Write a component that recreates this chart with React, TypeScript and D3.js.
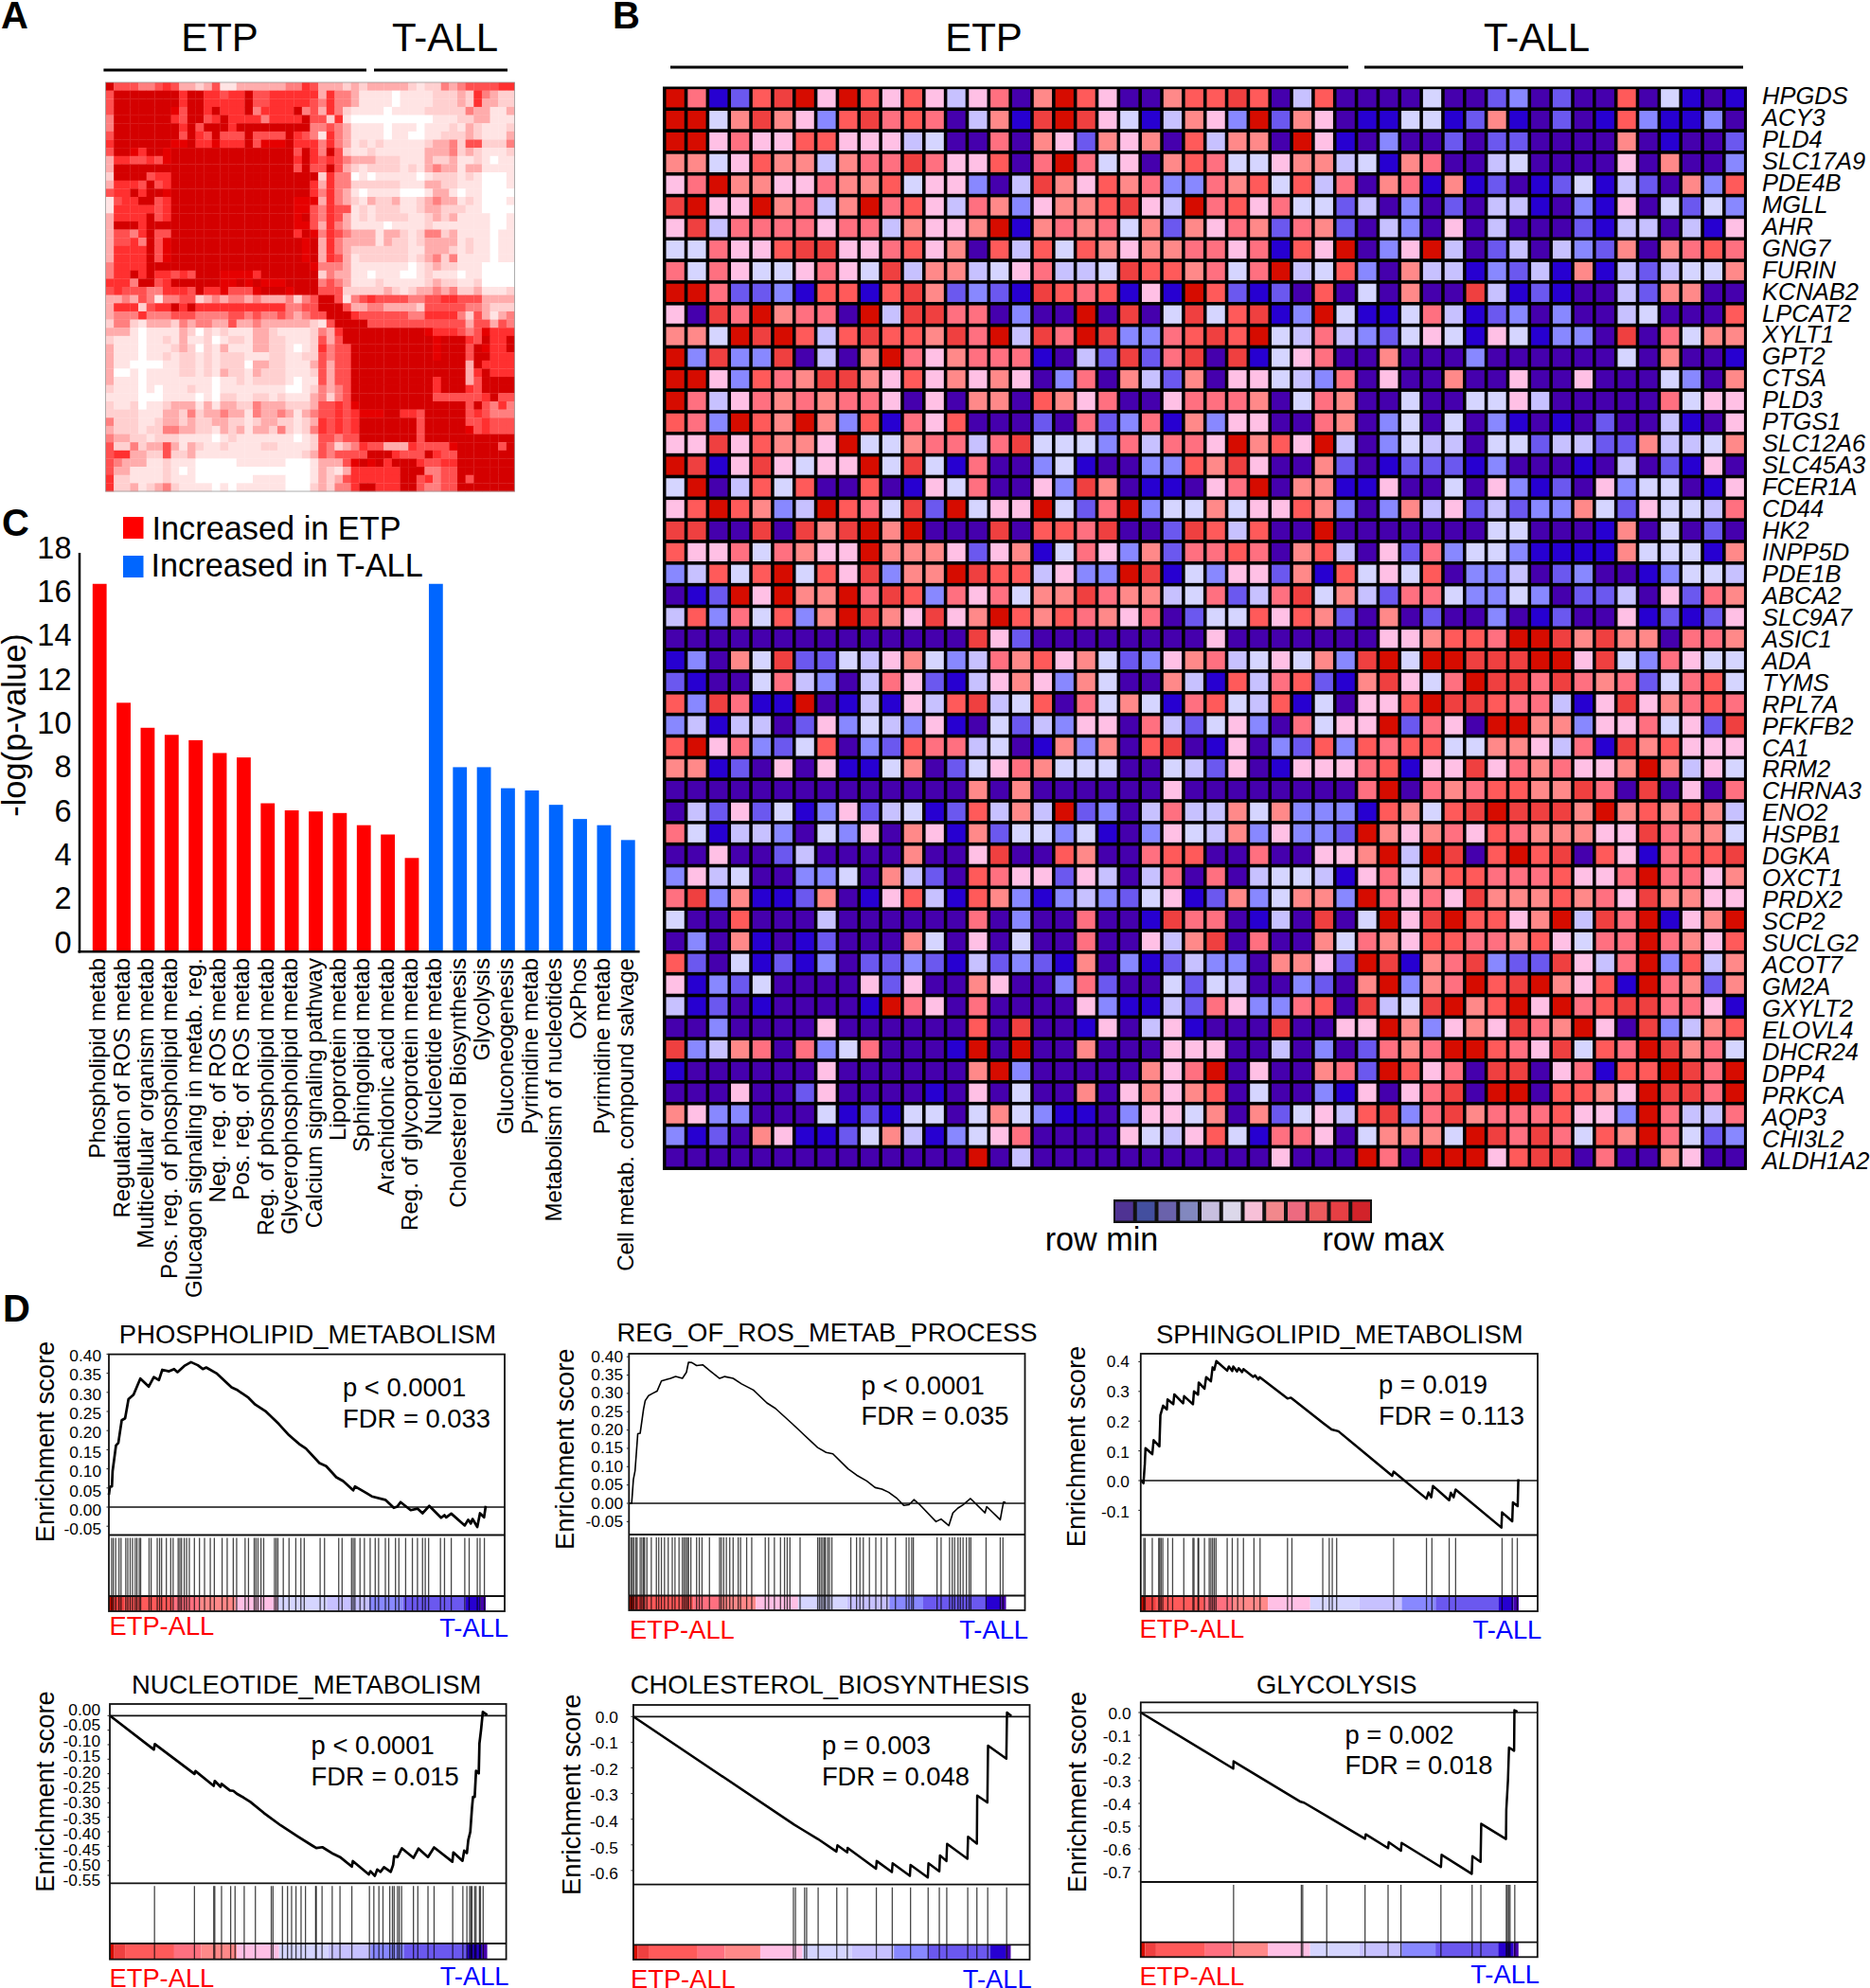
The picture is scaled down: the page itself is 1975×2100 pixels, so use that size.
import React from "react";
import * as d3 from "d3";

const FONT = "'Liberation Sans', Arial, sans-serif";

// ---------- Panel A: sample-sample correlation, upper triangle, red level 0-8 per cell ----------
const corrLevels = ["#ffffff", "#ffe4e4", "#ffd0d0", "#ffacac", "#ff7f7f", "#ff5050", "#ff3030", "#e60000", "#d40000"];
const corrUpper = [
  "855544565332351133333344653332323333321224345555 6",
  "88888888688665668556666663644 3 11110111122232643223",
  "8888888688666668556666654644 3 11110111122232633223",
  "888887588686668466668453642 11110111122222433113",
  "8888658856866664666685526 1 0 00000000011122331112",
  "888868 588868888888884 4 5 4 3 11110111011121321112",
  "8885 86 5 8 5 55 8 5 555 8 654 1 6 4 3 11110110011222321113",
  "8778 66 7 666 8 5 777 8 666 4 6 4 3 12121111123342552224",
  "888888888888888586 4 8 5 2 11211111133342321112",
  "88888888888888686 5 6 5 4 33322211132231121011",
  "8888888888888585 5 8 5 3 21222212134331331111",
  "888888888888888 2 6 4 4 01011111012221210001",
  "88888888888886 3 6 4 4 22222211133221110001",
  "8888888888886 4 6 4 3 10111100013310110000",
  "888888888777 3 6 4 3 21322311234331210001",
  "88888888775 4 6 5 5 12122211233222110000",
  "8888888785 4 6 5 3 12122221123231111001",
  "888888775 3 6 4 3 11110111121111111001",
  "88888687 4 6 5 4 33313321244231111011",
  "8888878 3 6 4 3 33313221233331211011",
  "888878 3 6 4 3 22222221133321211011",
  "88878 3 6 5 3 12222221234241111011",
  "8887 4 4 4 3 11111110123221110000",
  "888 2 4 3 3 11011100121110110000",
  "88 4 5 4 3 11121111123221120000",
  "8 5 5 5 2 22223212334342231112",
  "88 5 1 4 5 6 5555 44 55 66 555 33 33",
  "8 8 5 33 44 3333 2 55555 44 3 222",
  "8 8 6 5 55555 44 6666 4 2 5 3 1 3 4",
  "8 88 5555555 55555 3 55 3 5 4",
  "888888888 7 6 66 5 4 5 7 666",
  "888888888 7 888 6 5 8 66 8",
  "88888888 7 888 5 8 7 66 8",
  "8888888 7888 5 8 8 666",
  "888888 8888 3 8 6 666",
  "88888 8888 3 6 8 666",
  "8888 6888 3 5 8888",
  "888 6888 6 5 8888",
  "88 5555 5 5 6 8 55",
  "8 8888 5 8 5 4 6 4",
  "8888 5 6 5 444",
  "888 5 5 6 555",
  "88 7 5 6 555",
  "8888888",
  "888858",
  "88888",
  "8888",
  "888",
  "88",
  "8",
];

// ---------- Panel B: 50 genes x 50 samples, palette level 0-11 (A=10, B=11) ----------
const heatPalette = ["#4500ad", "#2700d1", "#6b58ef", "#8888ff", "#c7c1ff", "#d5d5ff", "#ffc0e5", "#ff8989", "#ff7080", "#ff5a5a", "#ef4040", "#d60c00"];
const legendPalette = ["#4f3393", "#434f9f", "#6a62ab", "#8288bf", "#c8bfdf", "#dcd8ea", "#f7c0d8", "#f2888c", "#ed6a80", "#ec5a5d", "#e63f44", "#d2232a"];
const genes = ["HPGDS", "ACY3", "PLD4", "SLC17A9", "PDE4B", "MGLL", "AHR", "GNG7", "FURIN", "KCNAB2", "LPCAT2", "XYLT1", "GPT2", "CTSA", "PLD3", "PTGS1", "SLC12A6", "SLC45A3", "FCER1A", "CD44", "HK2", "INPP5D", "PDE1B", "ABCA2", "SLC9A7", "ASIC1", "ADA", "TYMS", "RPL7A", "PFKFB2", "CA1", "RRM2", "CHRNA3", "ENO2", "HSPB1", "DGKA", "OXCT1", "PRDX2", "SCP2", "SUCLG2", "ACOT7", "GM2A", "GXYLT2", "ELOVL4", "DHCR24", "DPP4", "PRKCA", "AQP3", "CHI3L2", "ALDH1A2"];
const heatRows = [
  "B8 12 9A B6 B9 69 64 68 07 B9 60 07 99 A9 04 90 00 05 00 23 02 00 90 51 01",
  "BB 57 A7 63 9A 89 80 47 1A BA 65 14 76 3B 27 60 11 55 12 71 02 01 93 11 30",
  "BB 68 66 99 66 64 50 08 07 62 76 70 94 77 0B 61 03 00 20 22 00 00 70 10 02",
  "77 56 97 74 78 8A 86 69 08 B8 56 07 98 55 67 74 51 78 00 45 00 00 60 70 03",
  "68 B7 76 68 77 95 66 30 4A 76 97 83 38 79 59 48 07 81 71 20 12 51 42 07 39",
  "AB 66 B7 84 7B 89 64 87 36 77 9A 64 B8 96 85 52 40 30 20 44 10 31 60 52 53",
  "6A 48 88 86 88 47 66 7B 17 87 85 72 76 87 28 72 04 30 60 40 00 21 44 04 16",
  "55 86 69 AA 66 89 67 09 49 59 76 77 88 68 19 6B 03 6B 40 24 04 32 70 78 98",
  "85 86 55 68 65 A4 77 45 68 44 5A 99 78 58 B4 59 30 74 41 32 41 71 42 45 57",
  "BB 82 23 19 91 9A 72 32 1A 98 91 61 B9 21 20 90 50 70 0A 41 21 00 42 77 00",
  "60 A8 B7 88 0B 4A A8 80 30 0B 0A 05 A5 9A 13 B5 11 58 41 23 03 00 45 00 09",
  "77 5B AB 94 9A 99 7A 8B 4A 8B A3 38 9A 9B 54 84 32 56 51 65 13 30 A0 85 77",
  "B3 A3 3A 04 07 B8 67 88 81 04 2A 28 A0 A1 56 80 07 00 03 00 00 00 50 70 01",
  "BB 63 98 7A A7 69 67 67 60 38 07 42 70 66 54 38 06 00 70 06 00 60 00 53 07",
  "B8 46 87 87 88 60 60 77 09 76 80 06 88 87 05 87 00 50 05 56 40 00 00 85 66",
  "98 3B 97 B7 39 18 69 00 02 08 23 81 73 66 00 87 03 50 50 31 01 02 00 41 06",
  "66 A6 97 76 B5 57 88 48 A5 55 38 48 86 B7 96 B4 03 54 40 55 24 42 27 44 57",
  "BA 16 A6 56 6B 5A 51 80 03 51 00 33 97 A6 00 72 01 22 21 30 00 10 40 21 60",
  "5B 04 95 90 09 01 65 80 06 3A 70 11 06 8B 07 71 16 00 50 63 12 06 35 50 16",
  "69 B9 73 4B 98 5A 2B 56 6B 52 8B 35 57 56 69 73 03 74 62 42 33 75 26 55 48",
  "AA 00 A0 A7 AB 7B 00 0A 09 98 A0 02 A9 49 00 B0 00 00 00 55 00 01 70 50 20",
  "96 68 58 76 6B 77 76 26 71 58 63 72 88 98 07 94 06 28 35 53 11 11 75 55 17",
  "34 95 9B 59 6A 37 7B A9 94 63 3B A1 53 66 27 19 56 59 03 34 02 30 01 35 54",
  "01 2B 6B 77 B8 A9 38 68 57 7A 87 74 58 24 8A 57 42 88 53 35 30 22 40 62 87",
  "49 38 59 37 BA 76 A6 7B 97 98 76 80 25 59 69 72 07 02 00 30 12 00 61 21 26",
  "00 00 00 00 00 00 00 A6 20 00 00 00 06 00 00 00 06 67 99 8B BA 7A 77 08 87",
  "13 07 5A 22 54 67 53 48 79 67 52 36 78 45 65 73 AB 5B BA AA BB 6A 53 86 55",
  "21 00 58 43 04 86 21 46 76 37 50 07 41 94 89 21 7A 65 8B AA 8A 87 82 58 95",
  "93 A8 11 B0 14 16 49 A4 59 08 57 51 89 54 91 50 66 9B AA 98 84 16 A6 78 98",
  "34 14 40 26 35 43 61 05 24 36 60 84 25 63 08 56 6B 28 60 BB 77 36 68 56 2A",
  "9B 68 32 59 03 29 88 45 01 73 70 9A 01 60 32 93 98 99 55 77 64 81 A7 96 66",
  "77 12 06 06 11 57 02 56 87 55 50 05 42 60 16 66 89 16 6A 68 78 66 7B 74 65",
  "00 00 00 00 00 00 00 70 70 00 00 06 00 00 00 00 8B 08 78 99 77 A8 0A 06 08",
  "04 26 25 13 62 45 12 94 74 B2 30 48 44 75 73 33 19 75 9A BA AA 7B 79 79 74",
  "85 14 43 05 36 07 61 72 55 35 10 36 54 73 63 32 B7 67 86 98 77 76 6A 87 75",
  "00 60 02 40 00 07 00 6A 00 97 00 89 90 08 00 66 7B 4B A0 9B 9A 09 61 89 9A",
  "36 45 00 33 50 74 20 98 66 26 40 48 08 04 55 41 68 57 99 88 89 66 8B 88 67",
  "8A 37 11 27 01 69 41 97 31 34 32 56 12 73 57 73 B8 68 6A 77 79 78 6A 77 66",
  "50 09 00 04 00 00 00 80 30 08 00 1A 88 01 40 A0 5B 6A B9 96 7B 4A 8B 16 7B",
  "03 07 10 12 00 07 50 60 50 08 00 64 7A 08 00 75 87 69 98 87 96 58 8B 87 69",
  "92 05 12 13 02 23 21 42 32 17 03 12 43 30 77 62 BA 17 8A 32 2A 64 8B 39 47",
  "61 32 50 00 06 26 00 76 00 38 20 05 25 40 03 20 7B 37 8B 9A B7 69 1B 87 27",
  "41 20 10 00 01 B8 60 80 00 06 31 14 28 63 38 90 A4 5A B7 9B 6B 89 AA 88 61",
  "00 30 00 06 00 00 00 90 A0 01 60 46 10 00 A0 06 6B 73 67 6A 87 B6 0A 34 79",
  "A3 47 80 83 58 00 01 B0 B0 07 00 06 66 00 40 30 28 78 BB 98 6A 59 8B A7 85",
  "10 00 00 06 00 00 00 7B 30 00 00 76 8B 06 00 78 2B 96 80 AA 06 81 99 BA 8B",
  "00 06 00 26 00 00 10 60 50 07 06 76 79 05 00 31 60 68 A0 BB 09 97 6B AA 8B",
  "76 33 00 05 12 15 50 57 53 11 03 66 57 07 25 64 9A 38 A7 88 89 66 3B 84 48",
  "31 20 76 11 25 74 13 56 80 00 06 54 69 51 88 60 57 77 5B A8 A8 59 7B 85 23",
  "00 00 00 00 00 00 00 B0 40 00 00 00 00 00 60 00 B8 0B BB 69 AA 08 00 76 00",
];

// ---------- Panel C: enrichment bars ----------
const pathways = ["Phospholipid metab", "Regulation of ROS metab", "Multicellular organism metab", "Pos. reg. of phospholipid metab", "Glucagon signaling in metab. reg.", "Neg. reg. of ROS metab", "Pos. reg. of ROS metab", "Reg. of phospholipid metab", "Glycerophospholipid metab", "Calcium signaling pathway", "Lipoprotein metab", "Sphingolipid metab", "Arachidonic acid metab", "Reg. of glycoprotein metab", "Nucleotide metab", "Cholesterol Biosynthesis", "Glycolysis", "Gluconeogenesis", "Pyrimidine metab", "Metabolism of nucleotides", "OxPhos", "Pyrimidine metab", "Cell metab. compound salvage"];
const pathwayValues = [16.6, 11.23, 10.1, 9.78, 9.54, 8.96, 8.76, 6.69, 6.37, 6.32, 6.25, 5.7, 5.28, 4.22, 16.6, 8.32, 8.32, 7.37, 7.27, 6.62, 5.98, 5.7, 5.03];
const etpBarCount = 14;
const barTicks = [0, 2, 4, 6, 8, 10, 12, 14, 16, 18];

// ---------- Panel D: GSEA running scores [rank, ES], and hit ranks ----------
const rankBarEnds = [13, 45, 190, 270, 375, 500, 645, 770, 870, 1055, 1100, 1115];
const rankBarLevels = [11, 10, 9, 8, 7, 6, 5, 4, 3, 2, 1, 0];

const phosphoCurve = [[0,.032],[3,.053],[9,.054],[11,.094],[21,.161],[28,.168],[38,.227],[48,.232],[58,.282],[73,.294],[93,.336],[118,.315],[133,.340],[148,.332],[158,.359],[178,.355],[193,.361],[203,.353],[223,.369],[243,.379],[263,.371],[278,.361],[288,.365],[318,.350],[363,.313],[378,.307],[413,.286],[433,.268],[463,.251],[503,.217],[533,.188],[563,.165],[583,.153],[623,.115],[643,.107],[673,.078],[693,.068],[723,.044],[728,.054],[763,.036],[778,.028],[818,.019],[843,-.002],[853,.001],[863,.013],[893,-.008],[913,-.004],[928,-.016],[948,.003],[983,-.028],[993,-.021],[998,-.027],[1013,-.017],[1053,-.048],[1063,-.033],[1071,-.043],[1076,-.031],[1090,-.052],[1098,-.016],[1110,-.027],[1115,.003]];
const phosphoHits = [8,13,20,30,36,50,56,63,70,78,83,90,94,119,125,143,150,156,170,183,190,205,210,215,223,230,238,253,268,283,300,312,335,350,368,378,403,413,430,435,441,450,458,490,495,500,516,533,553,568,578,625,638,680,690,718,723,728,743,756,773,788,798,818,828,848,858,878,898,913,928,936,946,981,993,1013,1053,1066,1090,1098,1111];
const rosCurve = [[0,0],[8,0],[13,.065],[18,.089],[26,.190],[33,.191],[43,.257],[48,.280],[58,.294],[70,.300],[83,.306],[96,.334],[108,.337],[123,.341],[138,.346],[158,.341],[170,.358],[176,.385],[186,.384],[200,.376],[218,.378],[238,.363],[268,.341],[283,.346],[308,.341],[333,.326],[368,.309],[408,.274],[433,.259],[483,.217],[558,.152],[583,.139],[603,.135],[648,.094],[673,.077],[703,.061],[728,.043],[748,.039],[768,.030],[793,.013],[813,-.006],[828,-.004],[843,.010],[858,-.002],[908,-.050],[923,-.043],[946,-.061],[958,-.026],[973,-.013],[988,-.004],[1010,.013],[1053,-.026],[1058,-.009],[1098,-.045],[1103,-.019],[1108,.004],[1114,.002]];
const rosHits = [6,10,14,20,24,33,38,43,46,53,66,81,88,96,105,116,128,136,148,158,163,168,173,176,183,200,208,216,238,268,273,280,288,298,308,323,330,348,363,403,413,430,448,460,468,476,506,558,563,568,573,578,581,588,593,600,656,673,683,693,711,730,746,763,788,820,828,836,841,911,923,948,956,963,973,980,988,998,1006,1011,1056,1098,1106];
const sphingoCurve = [[0,.002],[8,-.009],[12,.056],[14,.109],[34,.089],[38,.136],[55,.115],[58,.220],[66,.252],[77,.239],[79,.273],[96,.257],[99,.290],[125,.260],[128,.284],[154,.257],[157,.300],[169,.289],[171,.330],[188,.309],[193,.348],[207,.334],[212,.381],[217,.373],[223,.402],[255,.370],[260,.384],[270,.369],[273,.384],[284,.367],[289,.378],[299,.365],[303,.375],[332,.349],[337,.354],[347,.340],[351,.348],[433,.276],[443,.279],[453,.270],[539,.193],[563,.172],[583,.166],[742,.016],[746,.030],[843,-.061],[849,-.040],[857,-.056],[862,-.018],[910,-.066],[915,-.041],[923,-.056],[929,-.030],[1064,-.158],[1066,-.107],[1096,-.137],[1098,-.073],[1112,-.086],[1114,.005]];
const sphingoHits = [9,13,34,53,56,60,65,80,94,127,154,157,169,171,188,202,207,212,217,222,255,270,286,303,334,352,433,446,537,556,565,578,746,843,859,910,929,1066,1096,1111];
const nucleoCurve = [[0,0],[130,-.117],[133,-.098],[250,-.201],[253,-.191],[307,-.242],[310,-.225],[327,-.245],[330,-.235],[355,-.258],[365,-.259],[375,-.269],[395,-.282],[415,-.297],[455,-.335],[505,-.378],[555,-.416],[600,-.449],[610,-.456],[628,-.453],[660,-.476],[680,-.487],[715,-.520],[718,-.501],[765,-.547],[770,-.536],[783,-.552],[790,-.530],[800,-.538],[810,-.522],[830,-.538],[837,-.514],[840,-.484],[850,-.487],[863,-.457],[897,-.490],[912,-.458],[940,-.487],[958,-.454],[1012,-.503],[1015,-.471],[1042,-.500],[1047,-.465],[1055,-.473],[1059,-.429],[1065,-.400],[1070,-.318],[1073,-.280],[1078,-.280],[1082,-.190],[1090,-.199],[1092,-.096],[1097,-.047],[1102,.013],[1115,.002]];
const nucleoHits = [132,250,307,310,330,357,370,397,430,477,482,510,525,537,550,565,578,608,610,627,657,680,715,767,780,795,807,827,835,840,850,855,862,897,910,940,958,1013,1043,1055,1063,1067,1070,1078,1082,1092,1095,1103];
const cholCurve = [[0,0],[475,-.421],[495,-.437],[545,-.477],[600,-.526],[603,-.502],[632,-.529],[633,-.512],[717,-.593],[719,-.563],[764,-.606],[766,-.572],[817,-.621],[819,-.578],[870,-.627],[872,-.572],[904,-.603],[906,-.541],[925,-.563],[927,-.496],[987,-.554],[989,-.468],[1015,-.495],[1016,-.308],[1046,-.335],[1048,-.113],[1102,-.164],[1104,.016],[1117,.002]];
const cholHits = [473,479,506,512,546,601,632,718,765,819,871,904,926,988,1015,1047,1103];
const glycoCurve = [[0,0],[273,-.247],[274,-.215],[472,-.393],[482,-.397],[549,-.456],[662,-.556],[664,-.536],[730,-.597],[732,-.571],[768,-.608],[770,-.574],[886,-.680],[888,-.626],[977,-.710],[979,-.632],[1003,-.657],[1005,-.490],[1078,-.557],[1079,-.428],[1084,-.296],[1087,-.154],[1102,-.168],[1103,.010],[1112,.004]];
const glycoHits = [274,474,478,549,662,730,768,886,978,1004,1079,1082,1086,1090,1104];

const ticks05 = [0.4, 0.35, 0.3, 0.25, 0.2, 0.15, 0.1, 0.05, 0, -0.05];
const ticksNeg05 = [0, -0.05, -0.1, -0.15, -0.2, -0.25, -0.3, -0.35, -0.4, -0.45, -0.5, -0.55];
const ticksSphingo = [0.4, 0.3, 0.2, 0.1, 0, -0.1];
const ticksChol = [0, -0.1, -0.2, -0.3, -0.4, -0.5, -0.6];
const ticksGlyco = [0, -0.1, -0.2, -0.3, -0.4, -0.5, -0.6, -0.7];

const gseaPanels = [
  { title: "PHOSPHOLIPID_METABOLISM", titleX: 325, titleY: 1419, curve: phosphoCurve, hits: phosphoHits, ticks: ticks05, fmt: ".2f", p: "p < 0.0001", fdr: "FDR = 0.033",
    x0: 115, x1: 533, top: 1430.6, curveBot: 1621.5, hitBot: 1686, bot: 1702, zero: 1592, perUnit: 404, lab0: 1431.5, labStep: 20.4, labX: 107,
    statX: 362, pY: 1475, fY: 1508, yTitleX: 57, yTitleY: 1523, etpX: 115.5, etpY: 1727, tX: 537, tY: 1729, lw: 2.7 },
  { title: "REG_OF_ROS_METAB_PROCESS", titleX: 873.5, titleY: 1417, curve: rosCurve, hits: rosHits, ticks: ticks05, fmt: ".2f", p: "p < 0.0001", fdr: "FDR = 0.035",
    x0: 664.3, x1: 1082.5, top: 1430, curveBot: 1621, hitBot: 1685.5, bot: 1701, zero: 1588, perUnit: 387, lab0: 1432.5, labStep: 19.35, labX: 658,
    statX: 909.5, pY: 1472.7, fY: 1505.4, yTitleX: 605.7, yTitleY: 1530.8, etpX: 665, etpY: 1730.5, tX: 1086, tY: 1730.5, lw: 1.6 },
  { title: "SPHINGOLIPID_METABOLISM", titleX: 1414.7, titleY: 1419, curve: sphingoCurve, hits: sphingoHits, ticks: ticksSphingo, fmt: ".1f", p: "p = 0.019", fdr: "FDR = 0.113",
    x0: 1204.8, x1: 1624, top: 1430, curveBot: 1621.5, hitBot: 1686, bot: 1702, zero: 1564, perUnit: 314, lab0: 1438, labStep: 31.8, labX: 1192.8,
    statX: 1456, pY: 1471.7, fY: 1504.7, yTitleX: 1145.9, yTitleY: 1528, etpX: 1203.5, etpY: 1729.5, tX: 1628.3, tY: 1730.5, lw: 2.5 },
  { title: "NUCLEOTIDE_METABOLISM", titleX: 323.6, titleY: 1789, curve: nucleoCurve, hits: nucleoHits, ticks: ticksNeg05, fmt: ".2f", p: "p < 0.0001", fdr: "FDR = 0.015",
    x0: 116, x1: 534.6, top: 1800, curveBot: 1989.3, hitBot: 2053, bot: 2069.7, zero: 1812.3, perUnit: 306.7, lab0: 1805.7, labStep: 16.4, labX: 106,
    statX: 328.6, pY: 1853, fY: 1886, yTitleX: 56.9, yTitleY: 1892.5, etpX: 115.5, etpY: 2099, tX: 537.5, tY: 2097, lw: 2.7 },
  { title: "CHOLESTEROL_BIOSYNTHESIS", titleX: 876.6, titleY: 1789, curve: cholCurve, hits: cholHits, ticks: ticksChol, fmt: ".1f", p: "p = 0.003", fdr: "FDR = 0.048",
    x0: 668.9, x1: 1087.5, top: 1801, curveBot: 1990.7, hitBot: 2054.3, bot: 2070, zero: 1813.3, perUnit: 271, lab0: 1813.3, labStep: 27.6, labX: 652.9,
    statX: 867.9, pY: 1853, fY: 1886, yTitleX: 612.9, yTitleY: 1895.8, etpX: 666, etpY: 2100, tX: 1089.6, tY: 2100, lw: 2.5 },
  { title: "GLYCOLYSIS", titleX: 1411.7, titleY: 1789, curve: glycoCurve, hits: glycoHits, ticks: ticksGlyco, fmt: ".1f", p: "p = 0.002", fdr: "FDR = 0.018",
    x0: 1204.8, x1: 1623.8, top: 1798.3, curveBot: 1988, hitBot: 2051.7, bot: 2067.3, zero: 1809, perUnit: 240, lab0: 1809.3, labStep: 24, labX: 1194.5,
    statX: 1420.5, pY: 1841.7, fY: 1874.3, yTitleX: 1147, yTitleY: 1893, etpX: 1203.5, etpY: 2097, tX: 1626, tY: 2095, lw: 2.5 },
];

function corrMatrix(): number[][] {
  const n = 50;
  const m = d3.range(n).map(() => new Array(n).fill(0));
  corrUpper.forEach((raw, r) => {
    const s = raw.replace(/ /g, "");
    for (let c = r; c < n; c++) {
      const ch = s[c - r] ?? s[s.length - 1];
      m[r][c] = +ch;
      m[c][r] = +ch;
    }
  });
  return m;
}

function PanelA() {
  const m = corrMatrix();
  const idx = d3.range(50);
  const x = d3.scaleBand<number>().domain(idx).range([111.5, 543.5]);
  const y = d3.scaleBand<number>().domain(idx).range([87, 519]);
  return (
    <g>
      {m.map((row, r) =>
        row.map((v, c) => (
          <rect key={`${r}-${c}`} x={x(c)} y={y(r)} width={x.bandwidth() + 0.3} height={y.bandwidth() + 0.3} fill={corrLevels[v]} />
        ))
      )}
      <rect x={111.5} y={87} width={432} height={432} fill="none" stroke="#999" strokeWidth={0.8} />
      <line x1={109.4} x2={387} y1={74} y2={74} stroke="#000" strokeWidth={3.2} />
      <line x1={395} x2={536} y1={74} y2={74} stroke="#000" strokeWidth={3.2} />
      <text x={232} y={54} textAnchor="middle" fontSize={42}>ETP</text>
      <text x={470} y={54} textAnchor="middle" fontSize={42}>T-ALL</text>
    </g>
  );
}

function PanelB() {
  const idx = d3.range(50);
  const x = d3.scaleBand<number>().domain(idx).range([701.7, 1843.7]);
  const y = d3.scaleBand<number>().domain(idx).range([92.4, 1234.2]);
  const labelY = d3.scaleLinear().domain([0, 49]).range([110, 1234.6]);
  const legendX = d3.scaleBand<number>().domain(d3.range(12)).range([1176, 1449]);
  return (
    <g>
      <line x1={708} x2={1424} y1={71} y2={71} stroke="#000" strokeWidth={3.2} />
      <line x1={1441} x2={1841} y1={71} y2={71} stroke="#000" strokeWidth={3.2} />
      <text x={1039} y={54} textAnchor="middle" fontSize={42}>ETP</text>
      <text x={1623} y={54} textAnchor="middle" fontSize={42}>T-ALL</text>
      <rect x={700} y={91.5} width={1145} height={1144.5} fill="#000" />
      {heatRows.map((raw, r) => {
        const s = raw.replace(/ /g, "");
        return idx.map((c) => (
          <rect key={`${r}-${c}`} x={x(c)! + 1.8} y={y(r)! + 1.8} width={x.bandwidth() - 3.6} height={y.bandwidth() - 3.6} fill={heatPalette[parseInt(s[c] ?? "0", 12)]} />
        ));
      })}
      {genes.map((g, i) => (
        <text key={g} x={1861} y={labelY(i)} fontSize={25.5} fontStyle="italic">{g}</text>
      ))}
      <rect x={1176} y={1267} width={273} height={25} fill="#111" />
      {legendPalette.map((c, i) => (
        <rect key={c} x={legendX(i)! + 2} y={1269.5} width={legendX.bandwidth() - 4} height={20} fill={c} />
      ))}
      <text x={1163.5} y={1321} textAnchor="middle" fontSize={34.2}>row min</text>
      <text x={1461} y={1321} textAnchor="middle" fontSize={34.2}>row max</text>
    </g>
  );
}

function PanelC() {
  const y = d3.scaleLinear().domain([0, 18]).range([1005, 584]);
  const labelY = d3.scaleLinear().domain([0, 18]).range([995, 578]);
  const x = d3.scalePoint<number>().domain(d3.range(pathways.length)).range([105.2, 663.3]);
  return (
    <g>
      <rect x={130} y={546} width={21.5} height={23} fill="#ff0000" />
      <text x={160.5} y={569.6} fontSize={34.3}>Increased in ETP</text>
      <rect x={130} y={587} width={21.5} height={23} fill="#0066ff" />
      <text x={159.5} y={608.6} fontSize={34.3}>Increased in T-ALL</text>
      {pathwayValues.map((v, i) => (
        <rect key={i} x={x(i)! - 7.4} y={y(v)} width={14.8} height={y(0) - y(v)} fill={i < etpBarCount ? "#ff0000" : "#0066ff"} />
      ))}
      <line x1={84} x2={84} y1={584} y2={1006.5} stroke="#000" strokeWidth={2.5} />
      <line x1={82.5} x2={675.6} y1={1005.3} y2={1005.3} stroke="#000" strokeWidth={2.5} />
      {barTicks.map((t) => (
        <text key={t} x={75.5} y={labelY(t)} dy="0.36em" textAnchor="end" fontSize={32.5}>{t}</text>
      ))}
      <text transform="translate(27,766) rotate(-90)" textAnchor="middle" fontSize={34.5}>-log(p-value)</text>
      {pathways.map((p, i) => (
        <text key={i} transform={`translate(${x(i)! + 6},1012) rotate(-90)`} textAnchor="end" fontSize={24.1}>{p}</text>
      ))}
    </g>
  );
}

function GseaPanel({ cfg }: { cfg: (typeof gseaPanels)[number] }) {
  const x = d3.scaleLinear().domain([0, 1171]).range([cfg.x0, cfg.x1]);
  const y = d3.scaleLinear().domain([0, 1]).range([cfg.zero, cfg.zero - cfg.perUnit]);
  const line = d3.line<number[]>().x((d) => x(d[0])).y((d) => y(d[1]));
  const fmt = d3.format(cfg.fmt);
  let prev = 0;
  const segments = rankBarEnds.map((end, i) => {
    const s = { from: prev, to: end, color: heatPalette[rankBarLevels[i]] };
    prev = end;
    return s;
  });
  return (
    <g>
      <text x={cfg.titleX} y={cfg.titleY} textAnchor="middle" fontSize={27.4}>{cfg.title}</text>
      <text transform={`translate(${cfg.yTitleX},${cfg.yTitleY}) rotate(-90)`} textAnchor="middle" fontSize={27.3}>Enrichment score</text>
      {segments.map((s, i) => (
        <rect key={i} x={x(s.from)} y={cfg.hitBot} width={x(s.to) - x(s.from)} height={cfg.bot - cfg.hitBot} fill={s.color} />
      ))}
      {cfg.hits.map((h, i) => (
        <line key={i} x1={x(h)} x2={x(h)} y1={cfg.curveBot + 3} y2={cfg.bot} stroke="#000" strokeOpacity={0.72} strokeWidth={1.3} />
      ))}
      <line x1={cfg.x0} x2={cfg.x1} y1={y(0)} y2={y(0)} stroke="#111" strokeWidth={1.7} />
      <path d={line(cfg.curve as number[][]) ?? ""} fill="none" stroke="#000" strokeWidth={cfg.lw} strokeLinejoin="round" />
      <rect x={cfg.x0} y={cfg.top} width={cfg.x1 - cfg.x0} height={cfg.bot - cfg.top} fill="none" stroke="#111" strokeWidth={1.8} />
      <line x1={cfg.x0} x2={cfg.x1} y1={cfg.curveBot} y2={cfg.curveBot} stroke="#111" strokeWidth={1.8} />
      <line x1={cfg.x0} x2={cfg.x1} y1={cfg.hitBot} y2={cfg.hitBot} stroke="#111" strokeWidth={1.8} />
      {cfg.ticks.map((t, i) => (
        <g key={t}>
          <line x1={cfg.x0 - 2.5} x2={cfg.x0} y1={y(t)} y2={y(t)} stroke="#222" strokeWidth={1} />
          <text x={cfg.labX} y={cfg.lab0 + i * cfg.labStep} dy="0.36em" textAnchor="end" fontSize={17.3}>{fmt(t).replace("\u2212", "-")}</text>
        </g>
      ))}
      <text x={cfg.statX} y={cfg.pY} fontSize={27.4}>{cfg.p}</text>
      <text x={cfg.statX} y={cfg.fY} fontSize={27.4}>{cfg.fdr}</text>
      <text x={cfg.etpX} y={cfg.etpY} fontSize={27.3} fill="#ff0000">ETP-ALL</text>
      <text x={cfg.tX} y={cfg.tY} textAnchor="end" fontSize={27.3} fill="#0000ff">T-ALL</text>
    </g>
  );
}

export default function App() {
  return (
    <svg width={1975} height={2100} viewBox="0 0 1975 2100" style={{ position: "absolute", left: 0, top: 0, background: "#fff" }} fontFamily={FONT} fill="#000">
      <g fontWeight="bold" fontSize={40}>
        <text x={1} y={30}>A</text>
        <text x={647} y={30}>B</text>
        <text x={2} y={566}>C</text>
        <text x={3} y={1396}>D</text>
      </g>
      <PanelA />
      <PanelB />
      <PanelC />
      {gseaPanels.map((cfg) => (
        <GseaPanel key={cfg.title} cfg={cfg} />
      ))}
    </svg>
  );
}
